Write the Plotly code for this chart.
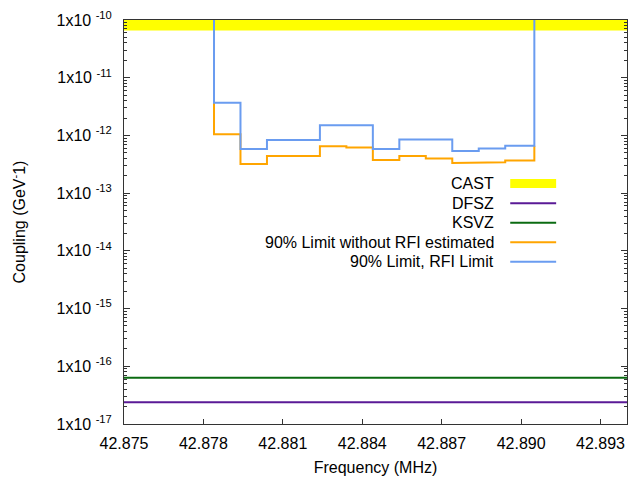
import numpy as np
import plotly.graph_objects as go

# ---- data ----
bin_edges = [42.8784, 42.8794, 42.8804, 42.8814, 42.8824, 42.8834, 42.8844,
             42.8854, 42.8864, 42.8874, 42.8884, 42.8894, 42.8905]
rfi_limit = [3.68e-12, 5.8e-13, 8.3e-13, 8.3e-13, 1.5e-12, 1.5e-12,
             5.8e-13, 8.5e-13, 8.5e-13, 5.37e-13, 5.95e-13, 6.6e-13]
no_rfi_limit = [1.05e-12, 3.2e-13, 4.4e-13, 4.4e-13, 6.5e-13, 6.2e-13,
                3.76e-13, 4.4e-13, 4.0e-13, 3.33e-13, 3.42e-13, 3.66e-13]
cast_limit = 6.6e-11
cast_top = 1e-10
dfsz = 2.39e-17
ksvz = 6.3e-17
x_range = [42.875, 42.894]
x_ticks = [42.875, 42.878, 42.881, 42.884, 42.887, 42.890, 42.893]
y_exps = [-10, -11, -12, -13, -14, -15, -16, -17]

legend_names = ["CAST", "DFSZ", "KSVZ", "90% Limit without RFI estimated", "90% Limit, RFI Limit"]
colors = {"CAST": "#ffff00", "DFSZ": "#5a1a96", "KSVZ": "#0b6b12",
          "90% Limit without RFI estimated": "#ffa500", "90% Limit, RFI Limit": "#6a9cf0"}

FONT = "Liberation Sans, Arial, sans-serif"

def step_path(edges, vals, start, end):
    xs = [edges[0]]
    ys = [start]
    for i, v in enumerate(vals):
        xs += [edges[i], edges[i + 1]]
        ys += [v, v]
    xs.append(edges[-1])
    ys.append(end)
    return xs, ys

fig = go.Figure()

# CAST band
fig.add_trace(go.Scatter(
    x=[x_range[0], x_range[1], x_range[1], x_range[0], x_range[0]],
    y=[cast_limit, cast_limit, cast_top, cast_top, cast_limit],
    fill="toself", fillcolor=colors["CAST"], line=dict(width=0),
    mode="lines", showlegend=False, hoverinfo="skip"))

# DFSZ / KSVZ
fig.add_trace(go.Scatter(x=x_range, y=[dfsz, dfsz], mode="lines",
                         line=dict(color=colors["DFSZ"], width=2), showlegend=False))
fig.add_trace(go.Scatter(x=x_range, y=[ksvz, ksvz], mode="lines",
                         line=dict(color=colors["KSVZ"], width=2), showlegend=False))

# limits
ox, oy = step_path(bin_edges, no_rfi_limit, rfi_limit[0], rfi_limit[-1])
fig.add_trace(go.Scatter(x=ox, y=oy, mode="lines",
                         line=dict(color=colors["90% Limit without RFI estimated"], width=2),
                         showlegend=False))
bx, by = step_path(bin_edges, rfi_limit, cast_top, cast_top)
fig.add_trace(go.Scatter(x=bx, y=by, mode="lines",
                         line=dict(color=colors["90% Limit, RFI Limit"], width=2),
                         showlegend=False))

# custom gnuplot-style legend
W, H = 637, 487
ml, mr, mt, mb = 124, 9, 17, 63
pw, ph = W - ml - mr, H - mt - mb
def px2paper(xp, yp):
    return (xp - ml) / pw, 1 - (yp - mt) / ph

rows = [181.7, 201.5, 221.2, 240.9, 260.6]
for name, yp in zip(legend_names, rows):
    tx, ty = px2paper(497, yp)
    fig.add_annotation(x=tx, y=ty, xref="paper", yref="paper", text=name,
                       showarrow=False, xanchor="right", yanchor="middle",
                       font=dict(family=FONT, size=16, color="#000000"))
    x0, y0 = px2paper(511, yp)
    x1, _ = px2paper(557, yp)
    if name == "CAST":
        _, ya = px2paper(511, yp - 4.5)
        _, yb = px2paper(511, yp + 4.5)
        fig.add_shape(type="rect", xref="paper", yref="paper", x0=x0, x1=x1, y0=yb, y1=ya,
                      fillcolor=colors[name], line=dict(width=0))
    else:
        fig.add_shape(type="line", xref="paper", yref="paper", x0=x0, x1=x1, y0=y0, y1=y0,
                      line=dict(color=colors[name], width=2))

fig.update_xaxes(range=x_range, tickvals=x_ticks,
                 ticktext=[f"{v:.3f}" for v in x_ticks],
                 ticks="inside", ticklen=5, tickcolor="#333333",
                 showline=True, linecolor="#333333", linewidth=1, mirror=True,
                 showgrid=False, zeroline=False, ticklabelstandoff=5,
                 title=dict(text="Frequency (MHz)", font=dict(family=FONT, size=16), standoff=10),
                 tickfont=dict(family=FONT, size=16, color="#000000"))
fig.update_yaxes(type="log", range=[-17, -10],
                 tickvals=[10.0 ** e for e in y_exps],
                 ticktext=[f"1x10 <sup>{e}</sup>" for e in y_exps],
                 ticks="inside", ticklen=6, tickcolor="#333333",
                 minor=dict(ticks="inside", ticklen=3, tickcolor="#333333", dtick="D1", showgrid=False),
                 showline=True, linecolor="#333333", linewidth=1, mirror="allticks",
                 showgrid=False, zeroline=False, ticklabelstandoff=8,
                 title=dict(text="Coupling (GeV<sup>-</sup>1)", font=dict(family=FONT, size=16), standoff=26),
                 tickfont=dict(family=FONT, size=16, color="#000000"))

fig.update_layout(width=W, height=H, margin=dict(l=ml, r=mr, t=mt, b=mb),
                  plot_bgcolor="white", paper_bgcolor="white", showlegend=False,
                  font=dict(family=FONT, size=16, color="#000000"))

fig.write_html("out.html")
